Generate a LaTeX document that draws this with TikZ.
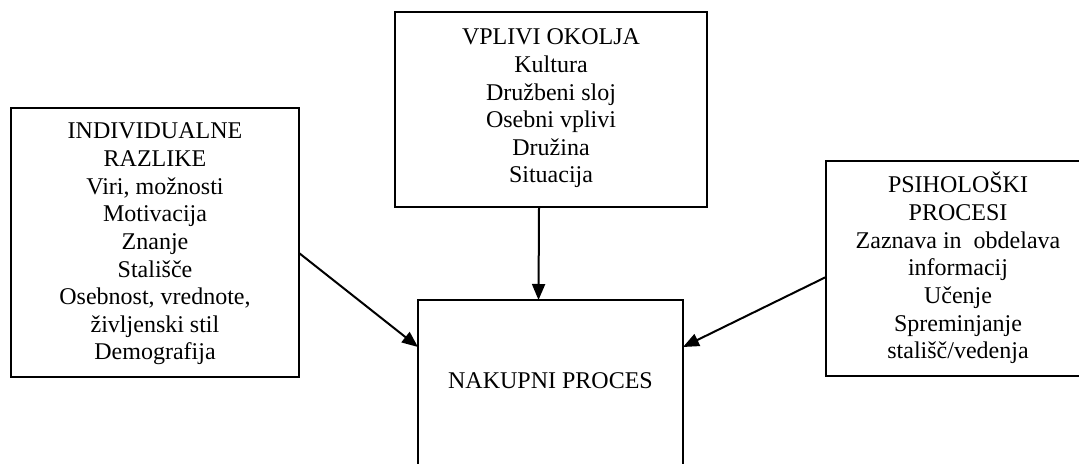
\documentclass[tikz,border=0pt]{standalone}
\usepackage{fontspec}
\setmainfont{Liberation Serif}
\usetikzlibrary{arrows.meta, positioning}

\begin{document}
\begin{tikzpicture}[x=0.5pt, y=-0.5pt,
    every node/.style={font=\fontsize{12}{13.8}\selectfont, align=center},
    box/.style={rectangle, draw, line width=1pt, inner sep=0pt, outer sep=0pt},
    txt/.style={inner sep=0pt, anchor=base},
    arr/.style={-{Triangle[length=8pt, width=6.5pt]}, line width=1pt}
]
\useasboundingbox (0,0) rectangle (1079,464);
\clip (0,0) rectangle (1079,464);

% --- boxes ---
\node[box, minimum width=156pt, minimum height=97.5pt]  (okolje)  at (551,109.5) {};
\node[box, minimum width=144pt, minimum height=134.5pt] (razlike) at (155,242.5) {};
\node[box, minimum width=132pt, minimum height=107.5pt] (psiho)   at (958,268.5) {};
\node[box, minimum width=132.5pt, minimum height=95pt]  (nakup)   at (550.5,395) {};

% --- texts (base = last line) ---
\node[txt] (okoljetxt) at ([yshift=-85.5pt]okolje.north)
  {VPLIVI OKOLJA\\Kultura\\Družbeni sloj\\Osebni vplivi\\Družina\\Situacija};
\node[txt] (razliketxt) at ([yshift=-125.9pt]razlike.north)
  {INDIVIDUALNE\\RAZLIKE\\Viri, možnosti\\Motivacija\\Znanje\\Stališče\\Osebnost, vrednote,\\življenski stil\\Demografija};
\node[txt] (psihotxt) at ([yshift=-98.8pt]psiho.north)
  {PSIHOLOŠKI\\PROCESI\\Zaznava in~ obdelava\\informacij\\Učenje\\Spreminjanje\\stališč/vedenja};
\node[txt] (nakuptxt) at ([yshift=-44pt]nakup.north) {NAKUPNI PROCES};

% --- arrows ---
\draw[arr] ([xshift=-6pt]okolje.south) -- ([xshift=-6pt]nakup.north);
\draw[arr] ([yshift=-5.25pt]razlike.east) -- ([yshift=-23.5pt]nakup.north west);
\draw[arr] ([yshift=-4.25pt]psiho.west) -- ([yshift=-23.5pt]nakup.north east);

\end{tikzpicture}
\end{document}
